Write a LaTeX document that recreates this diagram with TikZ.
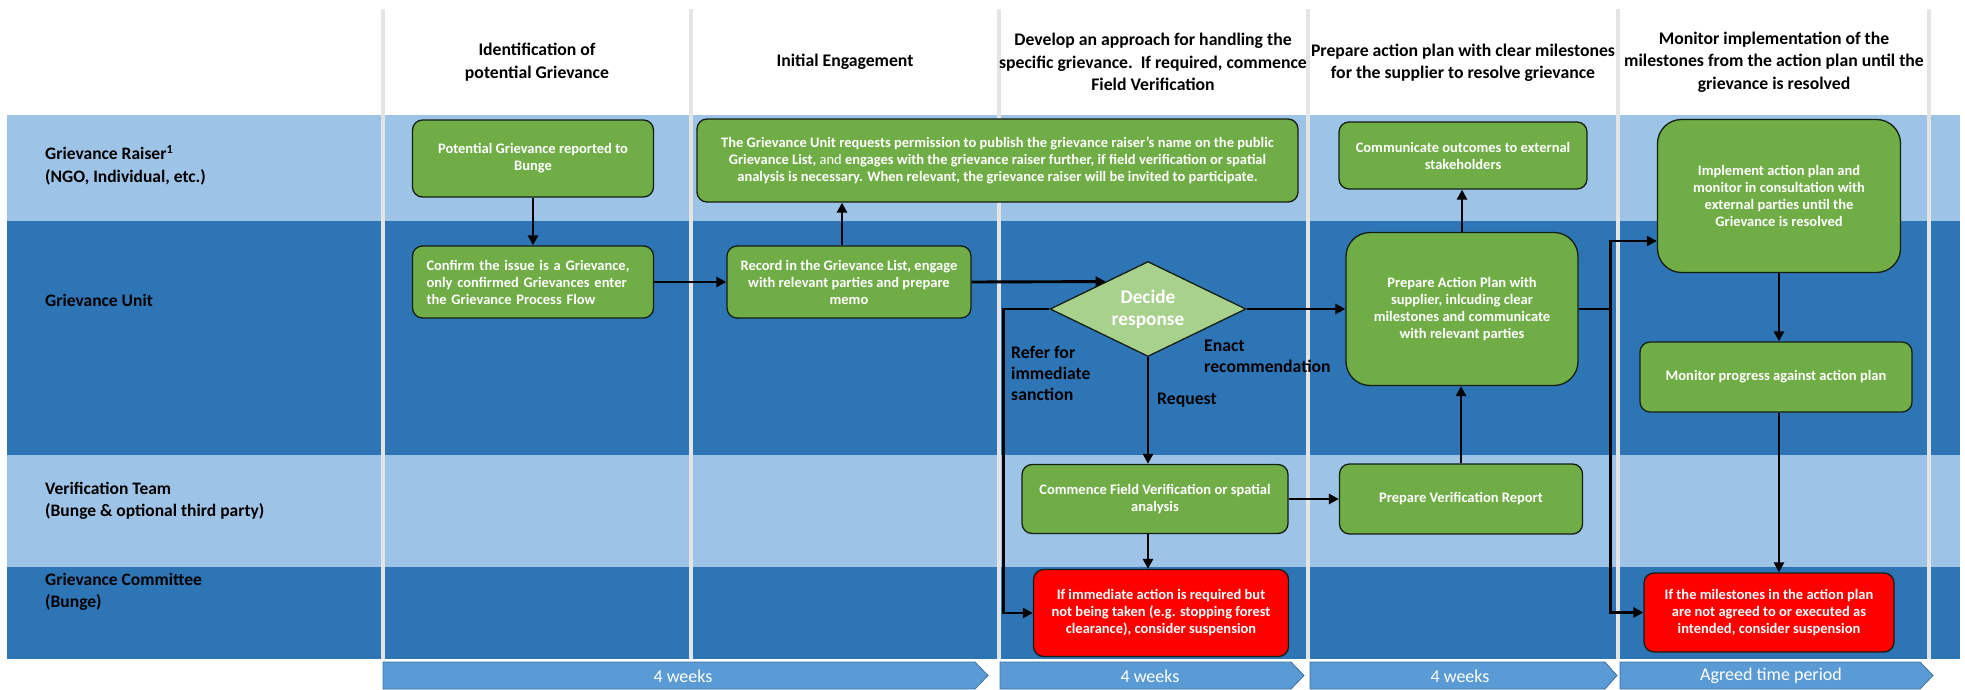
\documentclass[tikz,border=0pt]{standalone}
\usepackage{fontspec}
\setmainfont{Carlito}
\usetikzlibrary{shapes.geometric,arrows.meta,calc}
\definecolor{laneLight}{RGB}{157,195,230}
\definecolor{laneDark}{RGB}{46,117,182}
\definecolor{sepGray}{RGB}{228,228,228}
\definecolor{boxGreen}{RGB}{112,173,71}
\definecolor{diaGreen}{RGB}{169,209,142}
\definecolor{boxRed}{RGB}{255,0,0}
\definecolor{chevFill}{RGB}{91,155,213}
\definecolor{chevLine}{RGB}{65,113,156}
\definecolor{boxLine}{RGB}{20,30,20}
\begin{document}
\begin{tikzpicture}[x=1pt,y=-1pt,
  proc/.style={draw=boxLine, line width=1.3pt, fill=boxGreen, rounded corners=10pt, text=white, font=\bfseries\fontsize{14.5}{17}\selectfont, align=center, inner sep=0pt},
  alert/.style={proc, fill=boxRed},
  decision/.style={diamond, shape aspect=2.06, draw=boxLine, line width=1.3pt, fill=diaGreen, text=white, font=\bfseries\fontsize{19.3}{22}\selectfont, align=center, inner sep=0pt, minimum width=196pt, minimum height=95pt},
  header/.style={font=\bfseries\fontsize{17.7}{22.5}\selectfont, align=center, text=black, inner sep=0pt},
  lanelabel/.style={font=\bfseries\fontsize{17.5}{22.5}\selectfont, align=left, anchor=west, text=black, inner sep=0pt},
  flowlabel/.style={font=\bfseries\fontsize{17.7}{21}\selectfont, align=left, anchor=west, text=black, inner sep=0pt},
  weektext/.style={font=\fontsize{18}{20}\selectfont, text=white, inner sep=0pt},
  chevron/.style={fill=chevFill, draw=chevLine, line width=0.8pt},
  separator/.style={draw=sepGray, line width=4.5pt},
  link/.style={line width=2.9pt, draw=black},
  arr/.style={link, -{Triangle[length=10pt,width=10pt]}},
]
\useasboundingbox (0,0) rectangle (1965,690);
\fill[white] (0,0) rectangle (1965,690);
% lanes
\fill[laneLight] (7,115) rectangle (1960,220.5);
\fill[laneDark] (7,220.5) rectangle (1960,455);
\fill[laneLight] (7,455) rectangle (1960,567);
\fill[laneDark] (7,567) rectangle (1960,659);
% separators
\foreach \sx in {383,691,999,1308,1618,1929} \draw[separator] (\sx,9) -- (\sx,659);

% lane labels
\node[lanelabel] (lGR) at (45,165) {Grievance Raiser\textsuperscript{1}\\(NGO, Individual, etc.)};
\node[lanelabel] (lGU) at (45,300) {Grievance Unit};
\node[lanelabel] (lVT) at (45,501) {Verification Team\\(Bunge \& optional third party)};
\node[lanelabel] (lGC) at (45,592) {Grievance Committee\\(Bunge)};

% headers
\node[header] (h1) at (537,62) {Identification of\\potential Grievance};
\node[header] (h2) at (845,62) {Initial Engagement};
\node[header] (h3) at (1153,62) {Develop an approach for handling the\\specific grievance.\ \ If required, commence\\Field Verification};
\node[header] (h4) at (1463,63) {Prepare action plan with clear milestones\\for the supplier to resolve grievance};
\node[header] (h5) at (1774,62) {Monitor implementation of the\\milestones from the action plan until the\\grievance is resolved};

% process nodes
\node[proc, minimum width=241pt, minimum height=77pt] (pot) at (533,158.5) {Potential Grievance reported to\\Bunge};
\node[proc, minimum width=241pt, minimum height=72pt, text width=213pt, align=left] (conf) at (533,282) {Confirm the issue is a Grievance,\\only confirmed Grievances enter\\the Grievance Process Flow};
\node[proc, minimum width=244pt, minimum height=72pt] (rec) at (849,282) {Record in the Grievance List, engage\\with relevant parties and prepare\\memo};
\node[proc, minimum width=601pt, minimum height=83pt] (pub) at (997.5,160.5) {The Grievance Unit requests permission to publish the grievance raiser's name on the public\\Grievance List, {\mdseries and} engages with the grievance raiser further, if field verification or spatial\\analysis is necessary. When relevant, the grievance raiser will be invited to participate.};
\node[decision] (dec) at (1148,309) {Decide\\response};
\node[proc, minimum width=248pt, minimum height=67pt] (comm) at (1463,155.5) {Communicate outcomes to external\\stakeholders};
\node[proc, minimum width=232pt, minimum height=153pt, rounded corners=24pt] (ap) at (1462,309) {Prepare Action Plan with\\supplier, inlcuding clear\\milestones and communicate\\with relevant parties};
\node[proc, minimum width=243pt, minimum height=153pt, rounded corners=24pt] (impl) at (1779,196) {Implement action plan and\\monitor in consultation with\\external parties until the\\Grievance is resolved};
\node[proc, minimum width=272pt, minimum height=70pt] (mon) at (1776,377) {Monitor progress against action plan};
\node[proc, minimum width=266pt, minimum height=69pt] (com) at (1155,499) {Commence Field Verification or spatial\\analysis};
\node[proc, minimum width=243pt, minimum height=70pt] (vr) at (1461,499) {Prepare Verification Report};
\node[alert, minimum width=255pt, minimum height=87pt] (red1) at (1161,613) {If immediate action is required but\\not being taken (e.g. stopping forest\\clearance), consider suspension};
\node[alert, minimum width=250pt, minimum height=79pt] (red2) at (1769,612.5) {If the milestones in the action plan\\are not agreed to or executed as\\intended, consider suspension};

% flow labels
\node[flowlabel] (lref) at (1011,373) {Refer for\\immediate\\sanction};
\node[flowlabel] (lreq) at (1157,400) {Request};
\node[flowlabel] (lenact) at (1204,356) {Enact\\recommendation};

% connectors
\draw[arr] (pot) -- (conf);
\draw[arr] (conf) -- (rec);
\draw[arr] ([xshift=-7pt]rec.north) -- ([xshift=-7pt]rec.north |- pub.south);
\draw[arr] (rec.east) -- ($(dec.west)!0.57!(dec.north)$);
\draw[arr] (dec.east) -- (dec.east -| ap.west);
\draw[arr] (dec.west) -- ++(-46pt,0) |- (red1.west);
\draw[arr] (dec.south) -- (dec.south |- com.north);
\draw[arr] (com.south -| dec.south) -- (red1.north -| dec.south);
\draw[arr] (com.east) -- (vr.west);
\draw[arr] (vr.north) -- (vr.north |- ap.south);
\draw[arr] (ap.north) -- (ap.north |- comm.south);
\coordinate (br) at ($(ap.east)+(32pt,0)$);
\draw[link] (ap.east) -- (br);
\draw[arr] (br) |- ([yshift=-45pt]impl.west);
\draw[arr] (br) |- (red2.west);
\draw[arr] (impl.south) -- (impl.south |- mon.north);
\draw[arr] (mon.south -| impl.south) -- (red2.north -| impl.south);

% time chevrons
\path[chevron] (383,662) -- (975,662) -- (988,675.5) -- (975,689) -- (383,689) -- cycle;
\node[weektext] (w1) at (683,676) {4 weeks};
\path[chevron] (1000,662) -- (1291,662) -- (1304,675.5) -- (1291,689) -- (1000,689) -- cycle;
\node[weektext] (w2) at (1150,676) {4 weeks};
\path[chevron] (1310,662) -- (1605,662) -- (1617,675.5) -- (1605,689) -- (1310,689) -- cycle;
\node[weektext] (w3) at (1460,676) {4 weeks};
\path[chevron] (1620,662) -- (1920,662) -- (1933,675.5) -- (1920,689) -- (1620,689) -- cycle;
\node[weektext] (w4) at (1771,676) {Agreed time period};
\end{tikzpicture}
\end{document}
